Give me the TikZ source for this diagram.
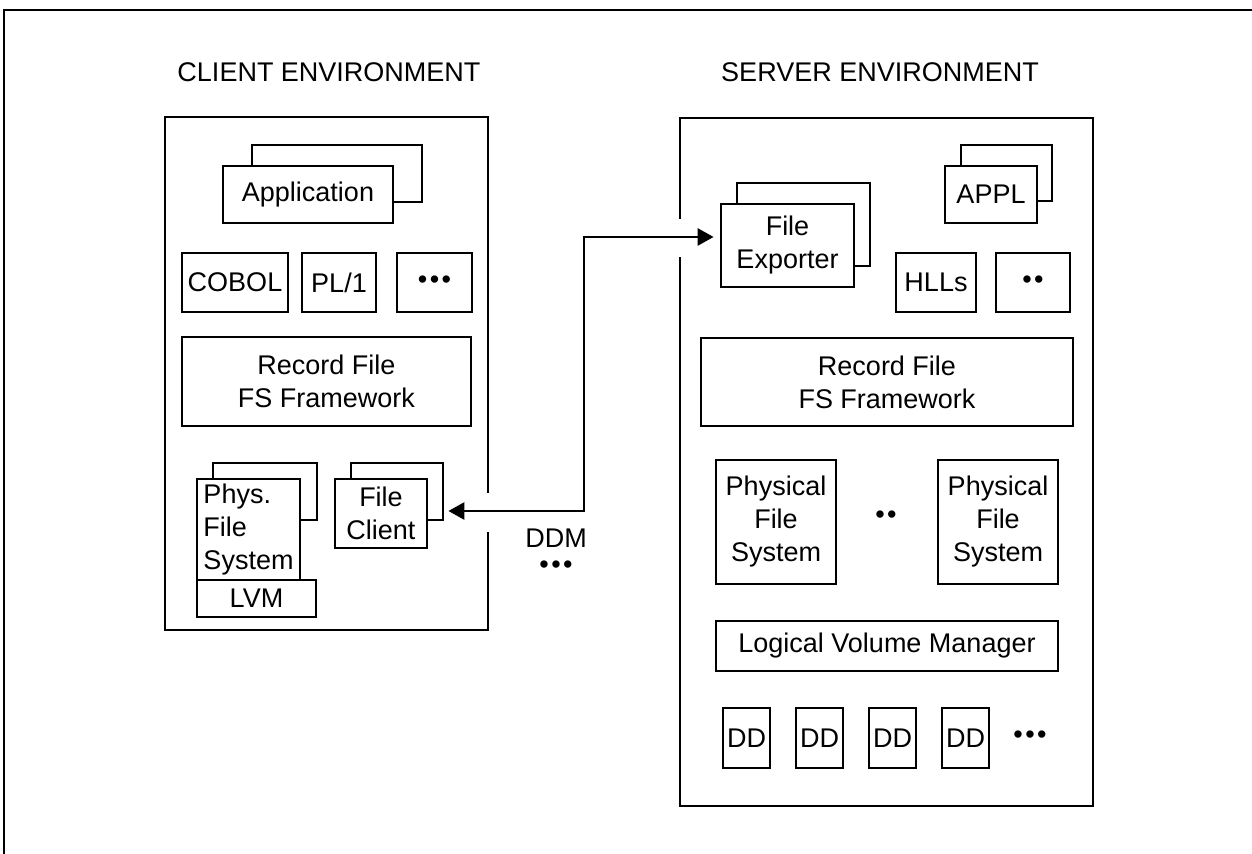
\documentclass[tikz,border=0pt]{standalone}
\usepackage{fontspec}
\setmainfont{Liberation Sans}
\usetikzlibrary{arrows.meta}
\newcommand{\twodots}{•\kern1.2pt•}
\newcommand{\threedots}{•\kern1.2pt•\kern1.2pt•}

\begin{document}
\begin{tikzpicture}[x=0.5pt, y=-0.5pt, font=\fontsize{13.5}{16.5}\selectfont,
    box/.style={draw, line width=1.4pt, fill=white, inner sep=1pt, align=center},
    envline/.style={line width=1.4pt},
    link/.style={line width=1.4pt, {Triangle[length=8pt, width=8.5pt]}-{Triangle[length=8pt, width=8.5pt]}},
    txt/.style={inner sep=0pt}]
  \useasboundingbox (0, 0) rectangle (1252, 854);
  % outer frame, cut off at the right and bottom
  \draw [envline] (4, 854) -- (4, 10) -- (1252, 10);
  % environment titles
  \node [txt] (cltitle) at (329, 72) {CLIENT ENVIRONMENT};
  \node [txt] (svtitle) at (880, 72) {SERVER ENVIRONMENT};
  % environment outlines, with an opening for the link
  \draw [envline] (488, 493) -- (488, 117) -- (165, 117) -- (165, 630) -- (488, 630) -- (488, 532);
  \draw [envline] (680, 219) -- (680, 118) -- (1093, 118) -- (1093, 806) -- (680, 806) -- (680, 257);
  % client side
  \node [box, minimum width=85pt, minimum height=28.5pt] (appb) at (337, 173.5) {};
  \node [box, minimum width=85pt, minimum height=28.5pt] (appf) at (308, 194.5) {Application};
  \node [box, minimum width=53pt, minimum height=29.5pt] (cobol) at (235, 282.5) {COBOL};
  \node [box, minimum width=37pt, minimum height=29.5pt] (pl1) at (339, 282.5) {PL/1};
  \node [box, minimum width=37.5pt, minimum height=29.5pt] (cdots) at (434.5, 282.5) {\threedots};
  \node [box, minimum width=144.5pt, minimum height=44.5pt] (crec) at (326.5, 381.5) {Record File\\FS Framework};
  \node [box, minimum width=52pt, minimum height=28.5pt] (pfsb) at (265, 491.5) {};
  \node [box, minimum width=51.5pt, minimum height=50.5pt, align=left] (pfsf) at (248.5, 529.5) {Phys.\\File\\System};
  \node [box, minimum width=59.5pt, minimum height=18.5pt] (clvm) at (256.5, 598.5) {LVM};
  \node [box, minimum width=46pt, minimum height=28.5pt] (fcb) at (397, 491.5) {};
  \node [box, minimum width=46pt, minimum height=34.5pt] (fcf) at (381, 513.5) {File\\Client};
  % server side
  \node [box, minimum width=66.5pt, minimum height=41.5pt] (fexb) at (803.5, 224.5) {};
  \node [box, minimum width=66.5pt, minimum height=41.5pt] (fexf) at (787.5, 245.5) {File\\Exporter};
  \node [box, minimum width=45.5pt, minimum height=28pt] (applb) at (1006.5, 173) {};
  \node [box, minimum width=46pt, minimum height=28.5pt] (applf) at (991, 194.5) {APPL};
  \node [box, minimum width=40pt, minimum height=29.5pt] (hlls) at (936, 282.5) {HLLs};
  \node [box, minimum width=37pt, minimum height=29.5pt] (sdots) at (1033, 282.5) {\twodots};
  \node [box, minimum width=186pt, minimum height=44pt] (srec) at (887, 382) {Record File\\FS Framework};
  \node [box, minimum width=60pt, minimum height=62pt] (pfs1) at (776, 522) {Physical\\File\\System};
  \node [txt] (pfsdots) at (886, 517) {\twodots};
  \node [box, minimum width=60pt, minimum height=62pt] (pfs2) at (998, 522) {Physical\\File\\System};
  \node [box, minimum width=171pt, minimum height=25pt] (slvm) at (887, 646) {Logical Volume Manager};
  \node [box, inner sep=0pt, minimum width=23.5pt, minimum height=30pt] (dd1) at (746.5, 738) {DD};
  \node [box, inner sep=0pt, minimum width=23.5pt, minimum height=30pt] (dd2) at (819.5, 738) {DD};
  \node [box, inner sep=0pt, minimum width=23.5pt, minimum height=30pt] (dd3) at (892.5, 738) {DD};
  \node [box, inner sep=0pt, minimum width=23.5pt, minimum height=30pt] (dd4) at (965.5, 738) {DD};
  \node [txt] (dddots) at (1030, 737) {\threedots};
  % DDM link between file client and file exporter
  \coordinate (bend) at (584, 374);
  \draw [link, shorten <=2pt, shorten >=3pt] ([yshift=-9.75pt]fcb.east) -| (bend) |- ([yshift=4.25pt]fexf.west);
  \node [txt] (ddm) at (556, 538) {DDM};
  \node [txt] (ddmdots) at (556, 567) {\threedots};
\end{tikzpicture}
\end{document}
